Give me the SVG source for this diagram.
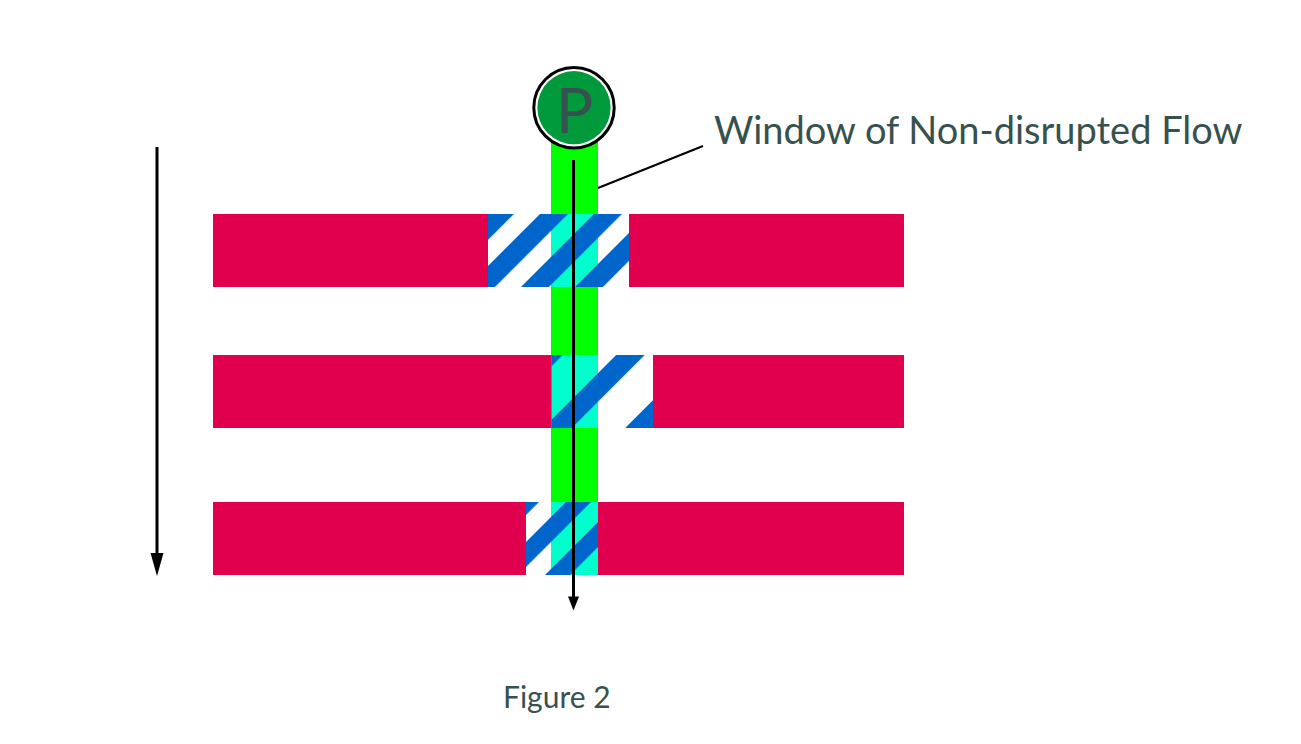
<svg xmlns="http://www.w3.org/2000/svg" width="1301" height="744" viewBox="0 0 1301 744">
<style>
.red{fill:#E0004D}
.white{fill:#FFFFFF}
.cyan{fill:#00FFCC}
.col{fill:#00FF00}
.blue{fill:#0066CC}
.ln{stroke:#000;stroke-width:3;fill:none}
.head{fill:#000}
.lbl{font-family:Lato,"Open Sans",sans-serif;fill:#37514F}
</style>
<defs>
<pattern id="h1" patternUnits="userSpaceOnUse" x="36.77" y="0" width="38.18" height="10" patternTransform="rotate(45)"><rect class="blue" x="0" y="0" width="19.8" height="10"/></pattern>
<pattern id="h2" patternUnits="userSpaceOnUse" x="49" y="0" width="57.98" height="10" patternTransform="rotate(45)"><rect class="blue" x="0" y="0" width="20.15" height="10"/></pattern>
<pattern id="h3" patternUnits="userSpaceOnUse" x="19.8" y="0" width="36.77" height="10" patternTransform="rotate(45)"><rect class="blue" x="0" y="0" width="17.68" height="10"/></pattern>
</defs>
<rect width="1301" height="744" fill="#fff"/>
<g id="window-column"><rect class="col" x="551" y="140" width="47" height="362"/></g>
<g id="row1">
<rect class="red" x="213" y="214" width="275" height="73"/>
<rect class="white" x="488" y="214" width="141" height="73"/>
<rect class="cyan" x="551" y="214" width="47" height="73"/>
<rect fill="url(#h1)" x="488" y="214" width="141" height="73"/>
<rect class="red" x="629" y="214" width="275" height="73"/>
</g>
<g id="row2">
<rect class="red" x="213" y="355" width="339" height="73"/>
<rect class="cyan" x="551.5" y="355" width="46.5" height="73"/>
<rect class="white" x="598" y="355" width="55" height="73"/>
<rect fill="url(#h2)" x="551.5" y="355" width="101.5" height="73"/>
<rect class="red" x="653" y="355" width="251" height="73"/>
</g>
<g id="row3">
<rect class="red" x="213" y="502" width="313" height="73"/>
<rect class="white" x="526" y="502" width="25" height="73"/>
<rect class="cyan" x="551" y="502" width="47" height="73"/>
<rect fill="url(#h3)" x="526" y="502" width="72" height="73"/>
<rect class="red" x="598" y="502" width="306" height="73"/>
</g>
<g id="node-p">
<circle cx="574" cy="107.7" r="40.2" fill="#fff" stroke="#000" stroke-width="3"/>
<circle cx="574" cy="107.7" r="36.6" fill="#009A3D"/>
<text class="lbl" x="574.5" y="132.5" font-size="62" text-anchor="middle">P</text>
</g>
<g id="connectors">
<line class="ln" x1="573.5" y1="160" x2="573.5" y2="598"/>
<polygon class="head" points="568,596.5 579,596.5 573.5,610.5"/>
<line class="ln" x1="157" y1="147" x2="157" y2="556"/>
<polygon class="head" points="150.5,553 163.5,553 157,576"/>
<line stroke="#000" stroke-width="2" x1="598" y1="188" x2="703" y2="146"/>
</g>
<g id="label-window"><text class="lbl" x="714" y="144" font-size="38">Window of Non-disrupted Flow</text></g>
<g id="label-figure"><text class="lbl" x="503" y="708" font-size="30">Figure 2</text></g>
</svg>
